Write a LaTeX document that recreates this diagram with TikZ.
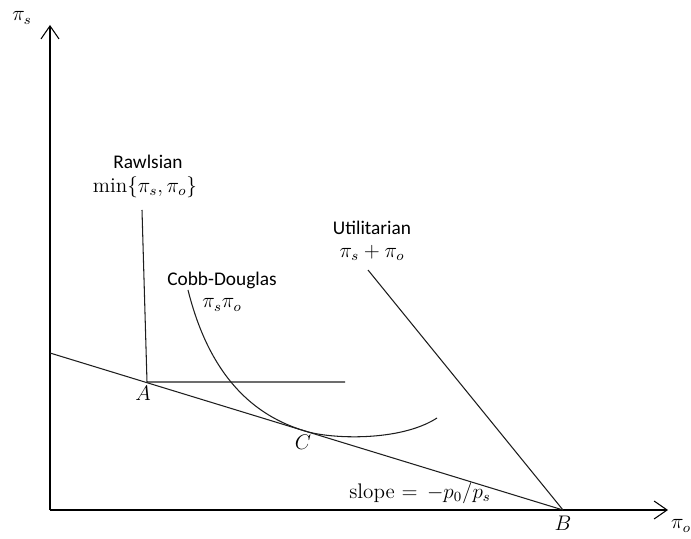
\documentclass[tikz,border=0pt]{standalone}
\usepackage{amsmath,amssymb}
\usepackage{fontspec}
\newfontfamily\calibrifont{Carlito}
\usepackage{tikz}
\usetikzlibrary{arrows.meta,positioning,calc}
\usepackage{xcolor}
\definecolor{inkgray}{RGB}{30,30,30}
\tikzset{
  axis/.style={-{Straight Barb[length=2.6mm,width=3.6mm]}, semithick, black},
  curve/.style={draw=inkgray, line width=0.6pt},
  label/.style={font=\calibrifont\fontsize{11}{13}\selectfont, align=center, inner sep=0.5pt},
  mathlabel/.style={font=\fontsize{12}{14}\selectfont, inner sep=0.5pt},
}
\begin{document}
\begin{tikzpicture}
\useasboundingbox (0,0) rectangle (13.82,10.76);
% axes
\coordinate (O) at (1.00,0.56);
\coordinate (ytop) at (1.00,10.26);
\coordinate (xend) at (13.36,0.56);
\draw[axis] (O) -- (ytop);
\draw[axis] (O) -- (xend);
\node[mathlabel] (pis) at (0.44,10.40) {$\pi_s$};
\node[mathlabel] (pio) at (13.62,0.24) {$\pi_o$};
% budget line
\coordinate (P0) at (1.00,3.70);
\coordinate (A) at (2.94,3.12);
\coordinate (C) at (6.10,2.14);
\coordinate (B) at (11.26,0.56);
\draw[curve] (P0) -- (B);
% Rawlsian
\coordinate (rtop) at (2.84,6.56);
\coordinate (rend) at (6.90,3.12);
\draw[curve] (rtop) -- (A) -- (rend);
\node[label] (rawls) at (2.96,7.52) {Rawlsian};
\node[mathlabel] (rawlsf) at (2.90,7.02) {$\min\{\pi_s,\pi_o\}$};
% Cobb-Douglas
\coordinate (ctop) at (3.76,4.96);
\coordinate (cend) at (8.74,2.40);
\draw[curve] (ctop) .. controls (4.20,3.20) and (5.10,2.44) .. (C)
  .. controls (6.60,1.98) and (8.00,1.92) .. (cend);
\node[label] (cobb) at (4.44,5.16) {Cobb-Douglas};
\node[mathlabel] (cobbf) at (4.44,4.66) {$\pi_s\pi_o$};
% Utilitarian
\coordinate (utop) at (7.36,5.36);
\draw[curve] (utop) -- (B);
\node[label] (util) at (7.44,6.20) {Utilitarian};
\node[mathlabel] (utilf) at (7.44,5.70) {$\pi_s+\pi_o$};
% points and slope
\node[mathlabel] (Alab) at (2.86,2.90) {$A$};
\node[mathlabel] (Clab) at (6.06,1.92) {$C$};
\node[mathlabel] (Blab) at (11.26,0.30) {$B$};
\node[mathlabel] (slope) at (8.40,0.90) {slope $= \,-p_0/p_s$};
\end{tikzpicture}
\end{document}
